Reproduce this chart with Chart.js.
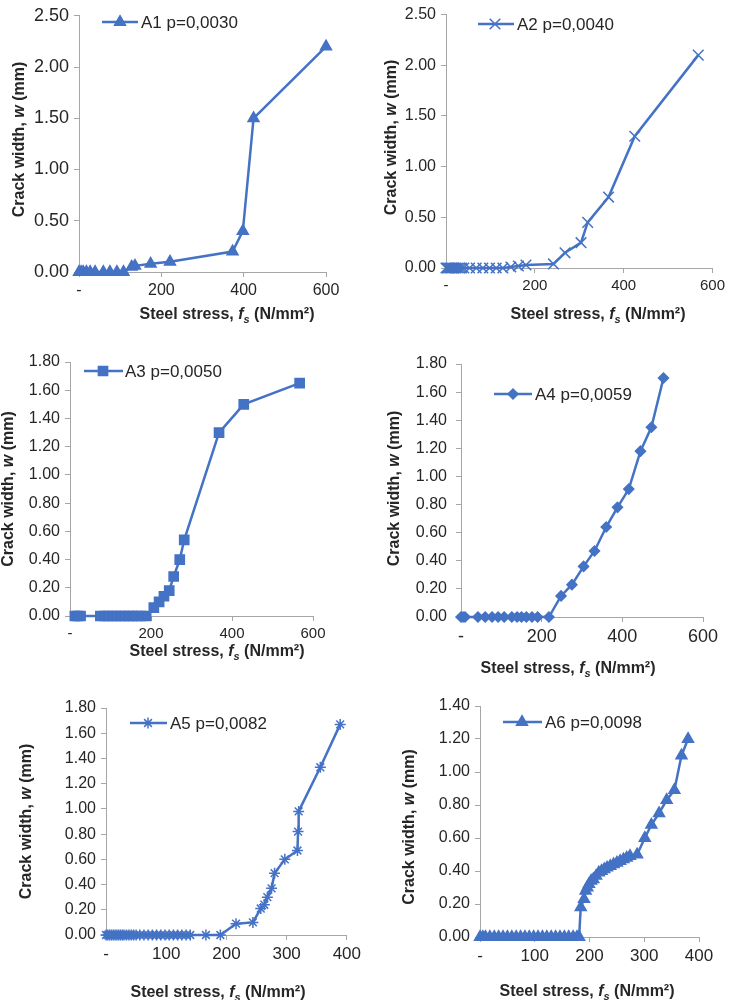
<!DOCTYPE html>
<html>
<head>
<meta charset="utf-8">
<script src="https://cdn.jsdelivr.net/npm/chart.js@4.4.0/dist/chart.umd.min.js"></script>
<style>
  html, body { margin: 0; padding: 0; background: #fff; }
  body { width: 729px; height: 1000px; position: relative; overflow: hidden; }
  .panel { position: absolute; }
</style>
</head>
<body>
<div class="panel" id="p1"><canvas id="c1"></canvas></div>
<div class="panel" id="p2"><canvas id="c2"></canvas></div>
<div class="panel" id="p3"><canvas id="c3"></canvas></div>
<div class="panel" id="p4"><canvas id="c4"></canvas></div>
<div class="panel" id="p5"><canvas id="c5"></canvas></div>
<div class="panel" id="p6"><canvas id="c6"></canvas></div>
<script>
// Steel stress (N/mm2) vs crack width (mm), one pair of arrays per beam
const a1Stress = [0, 5, 10, 18, 27, 39, 59, 75, 92, 108, 128, 136, 174, 221, 373, 398, 424, 600];
const a1Width  = [0, 0, 0, 0, 0, 0, 0, 0, 0, 0, 0.05, 0.06, 0.08, 0.10, 0.20, 0.40, 1.50, 2.20];

const a2Stress = [0, 3, 6, 9, 12, 15, 18, 22, 26, 30, 35, 40, 53, 68, 83, 98, 113, 128, 146, 163, 180, 242, 268, 304, 319, 366, 425, 568];
const a2Width  = [0, 0, 0, 0, 0, 0, 0, 0, 0, 0, 0, 0, 0, 0, 0, 0, 0, 0, 0.01, 0.02, 0.03, 0.04, 0.15, 0.25, 0.45, 0.70, 1.30, 2.10];

const a3Stress = [12, 19, 26, 75, 85, 95, 105, 115, 125, 135, 145, 155, 165, 175, 188, 207, 220, 232, 245, 256, 271, 282, 368, 429, 567];
const a3Width  = [0, 0, 0, 0, 0, 0, 0, 0, 0, 0, 0, 0, 0, 0, 0, 0.06, 0.10, 0.14, 0.18, 0.28, 0.40, 0.54, 1.30, 1.50, 1.65];

const a4Stress = [0, 5, 10, 42, 60, 77, 92, 107, 126, 139, 150, 162, 176, 190, 218, 248, 275, 304, 331, 360, 388, 416, 445, 472, 502];
const a4Width  = [0, 0, 0, 0, 0, 0, 0, 0, 0, 0, 0, 0, 0, 0, 0, 0.15, 0.23, 0.36, 0.47, 0.64, 0.78, 0.91, 1.18, 1.35, 1.70];

const a5Stress = [0, 3, 6, 9, 12, 15, 18, 21, 24, 27, 30, 34, 38, 42, 46, 50, 56, 63, 70, 77, 84, 91, 98, 105, 112, 119, 126, 133, 140, 166, 190,
                  216, 244, 257, 263, 268, 275, 280, 297, 318, 319, 320, 356, 389];
const a5Width  = [0, 0, 0, 0, 0, 0, 0, 0, 0, 0, 0, 0, 0, 0, 0, 0, 0, 0, 0, 0, 0, 0, 0, 0, 0, 0, 0, 0, 0, 0, 0,
                  0.09, 0.10, 0.21, 0.24, 0.30, 0.37, 0.49, 0.60, 0.67, 0.82, 0.98, 1.33, 1.67];

const a6Stress = [0, 5, 10, 18, 26, 34, 42, 50, 58, 66, 74, 82, 90, 98, 106, 114, 122, 130, 138, 146, 154, 162, 170, 177, 181,
                  184, 190, 193, 196, 199, 203, 207, 212, 217, 222, 227, 232, 238, 244, 250, 256, 262, 268, 274, 287,
                  301, 313, 327, 341, 355, 368, 380];
const a6Width  = [0, 0, 0, 0, 0, 0, 0, 0, 0, 0, 0, 0, 0, 0, 0, 0, 0, 0, 0, 0, 0, 0, 0, 0, 0,
                  0.18, 0.23, 0.28, 0.30, 0.32, 0.34, 0.35, 0.37, 0.39, 0.40, 0.41, 0.42, 0.43, 0.44, 0.45, 0.46, 0.47, 0.48, 0.49, 0.50,
                  0.60, 0.68, 0.75, 0.83, 0.89, 1.10, 1.20];

const seriesLabels = ['A1 p=0,0030', 'A2 p=0,0040', 'A3 p=0,0050', 'A4 p=0,0059', 'A5 p=0,0082', 'A6 p=0,0098'];
const xTickMax  = [600, 600, 600, 600, 400, 400];
const xTickStep = [200, 200, 200, 200, 100, 100];
const yTickMax  = [2.5, 2.5, 1.8, 1.8, 1.8, 1.4];
const yTickStep = [0.5, 0.5, 0.2, 0.2, 0.2, 0.2];

const BLUE = '#4472C4';
const AXIS = '#A6A6A6';
const TEXT = '#262626';
const FONT = "'Liberation Sans', Arial, sans-serif";

// page layout: box = canvas rect, area = plot rect (page coords)
const panels = [
  { id: 'c1', box: [0, 0, 365, 330],   area: [79, 7, 326, 272],    xs: a1Stress, ys: a1Width, marker: 'triangle', r: 6.3,
    xt: [227, 313], yt: [18, 139.5], leg: [102, 138, 22, 120, 141], yFont: 18, xFont: 16, yPad: 5 },
  { id: 'c2', box: [365, 0, 364, 330], area: [446, 7, 715, 268],   xs: a2Stress, ys: a2Width, marker: 'crossRot', r: 7.5,
    xt: [598, 313], yt: [390, 137.5], leg: [478, 514, 24, 495, 517], yFont: 16, xFont: 15, yPad: 5 },
  { id: 'c3', box: [0, 330, 365, 330], area: [70, 362, 313, 616],  xs: a3Stress, ys: a3Width, marker: 'rect', r: 6.5,
    xt: [217, 650], yt: [7, 489], leg: [84, 123, 371, 103, 125], yFont: 16, xFont: 15, yPad: 5 },
  { id: 'c4', box: [365, 330, 364, 350], area: [461, 364, 703, 617], xs: a4Stress, ys: a4Width, marker: 'rectRot', r: 5,
    xt: [568, 667], yt: [393, 488.5], leg: [494, 532, 394, 513, 535], yFont: 16, xFont: 18, yPad: 9 },
  { id: 'c5', box: [0, 660, 365, 340], area: [106, 708, 348, 935], xs: a5Stress, ys: a5Width, marker: 'star', r: 5.5,
    xt: [218, 991], yt: [25, 821.5], leg: [130, 167, 723, 148, 170], yFont: 16, xFont: 17, yPad: 5 },
  { id: 'c6', box: [365, 660, 364, 340], area: [480, 706, 699, 937], xs: a6Stress, ys: a6Width, marker: 'triangle', r: 6.3,
    xt: [587, 990], yt: [408, 827], leg: [503, 542, 722, 522, 545], yFont: 16, xFont: 17, yPad: 5 }
];

function drawParts(ctx, parts, cx, cy, rotate) {
  ctx.save();
  ctx.translate(cx, cy);
  if (rotate) ctx.rotate(-Math.PI / 2);
  ctx.fillStyle = TEXT;
  ctx.textBaseline = 'alphabetic';
  ctx.textAlign = 'left';
  let total = 0;
  parts.forEach(p => { ctx.font = p.font; total += ctx.measureText(p.text).width; });
  let x = -total / 2;
  parts.forEach(p => {
    ctx.font = p.font;
    ctx.fillText(p.text, x, 6 + (p.dy || 0));
    x += ctx.measureText(p.text).width;
  });
  ctx.restore();
}

const xTitle = [
  { text: 'Steel stress, ', font: 'bold 16px ' + FONT },
  { text: 'f', font: 'italic bold 16px ' + FONT },
  { text: 's', font: 'italic bold 11px ' + FONT, dy: 4 },
  { text: ' (N/mm²)', font: 'bold 16px ' + FONT }
];
const yTitle = [
  { text: 'Crack width, ', font: 'bold 16px ' + FONT },
  { text: 'w', font: 'italic bold 16px ' + FONT },
  { text: ' (mm)', font: 'bold 16px ' + FONT }
];

function textPlugin(p, label) {
  return {
    id: 'panelText',
    afterDraw(chart) {
      const ctx = chart.ctx;
      const ox = p.box[0], oy = p.box[1];
      drawParts(ctx, xTitle, p.xt[0] - ox, p.xt[1] - oy, false);
      drawParts(ctx, yTitle, p.yt[0] - ox, p.yt[1] - oy, true);
      // legend
      const [lx1, lx2, ly, mx, tx] = p.leg;
      ctx.save();
      ctx.strokeStyle = BLUE;
      ctx.fillStyle = BLUE;
      ctx.lineWidth = 2.5;
      ctx.beginPath();
      ctx.moveTo(lx1 - ox, ly - oy);
      ctx.lineTo(lx2 - ox, ly - oy);
      ctx.stroke();
      ctx.lineWidth = 1.5;
      Chart.helpers.drawPoint(ctx, { pointStyle: p.marker, radius: p.r, rotation: 0, borderWidth: 1.5 }, mx - ox, ly - oy);
      ctx.fillStyle = TEXT;
      ctx.font = '17px ' + FONT;
      ctx.textBaseline = 'middle';
      ctx.fillText(label, tx - ox, ly - oy + 1);
      ctx.restore();
    }
  };
}

panels.forEach((p, i) => {
  const div = document.getElementById('p' + (i + 1));
  div.style.left = p.box[0] + 'px';
  div.style.top = p.box[1] + 'px';
  const canvas = document.getElementById(p.id);
  canvas.width = p.box[2];
  canvas.height = p.box[3];
  canvas.style.width = p.box[2] + 'px';
  canvas.style.height = p.box[3] + 'px';

  const yw = p.area[0] - p.box[0];
  const xh = p.box[1] + p.box[3] - p.area[3];

  new Chart(canvas.getContext('2d'), {
    type: 'line',
    data: {
      datasets: [{
        label: seriesLabels[i],
        data: p.xs.map((x, k) => ({ x: x, y: p.ys[k] })),
        borderColor: BLUE,
        backgroundColor: BLUE,
        borderWidth: 2.5,
        tension: 0,
        pointStyle: p.marker,
        pointRadius: p.r,
        pointBorderWidth: 1.5,
        pointBorderColor: BLUE,
        pointBackgroundColor: BLUE,
        clip: false
      }]
    },
    options: {
      responsive: false,
      animation: false,
      layout: {
        padding: { left: 0, top: p.area[1] - p.box[1], right: p.box[0] + p.box[2] - p.area[2], bottom: 0 }
      },
      plugins: { legend: { display: false }, tooltip: { enabled: false } },
      scales: {
        x: {
          type: 'linear',
          min: 0,
          max: xTickMax[i],
          ticks: {
            stepSize: xTickStep[i],
            color: TEXT,
            padding: 4,
            maxRotation: 0,
            font: { family: FONT, size: p.xFont },
            callback: v => v === 0 ? '-' : v
          },
          grid: { drawOnChartArea: false, drawTicks: true, tickLength: 5, color: AXIS },
          border: { display: true, color: AXIS, width: 1 },
          afterFit: s => { s.height = xh; }
        },
        y: {
          type: 'linear',
          min: 0,
          max: yTickMax[i],
          ticks: {
            stepSize: yTickStep[i],
            color: TEXT,
            padding: p.yPad,
            font: { family: FONT, size: p.yFont },
            callback: v => Number(v).toFixed(2)
          },
          grid: { drawOnChartArea: false, drawTicks: true, tickLength: 5, color: AXIS },
          border: { display: true, color: AXIS, width: 1 },
          afterFit: s => { s.width = yw; }
        }
      }
    },
    plugins: [textPlugin(p, seriesLabels[i])]
  });
});
</script>
</body>
</html>
